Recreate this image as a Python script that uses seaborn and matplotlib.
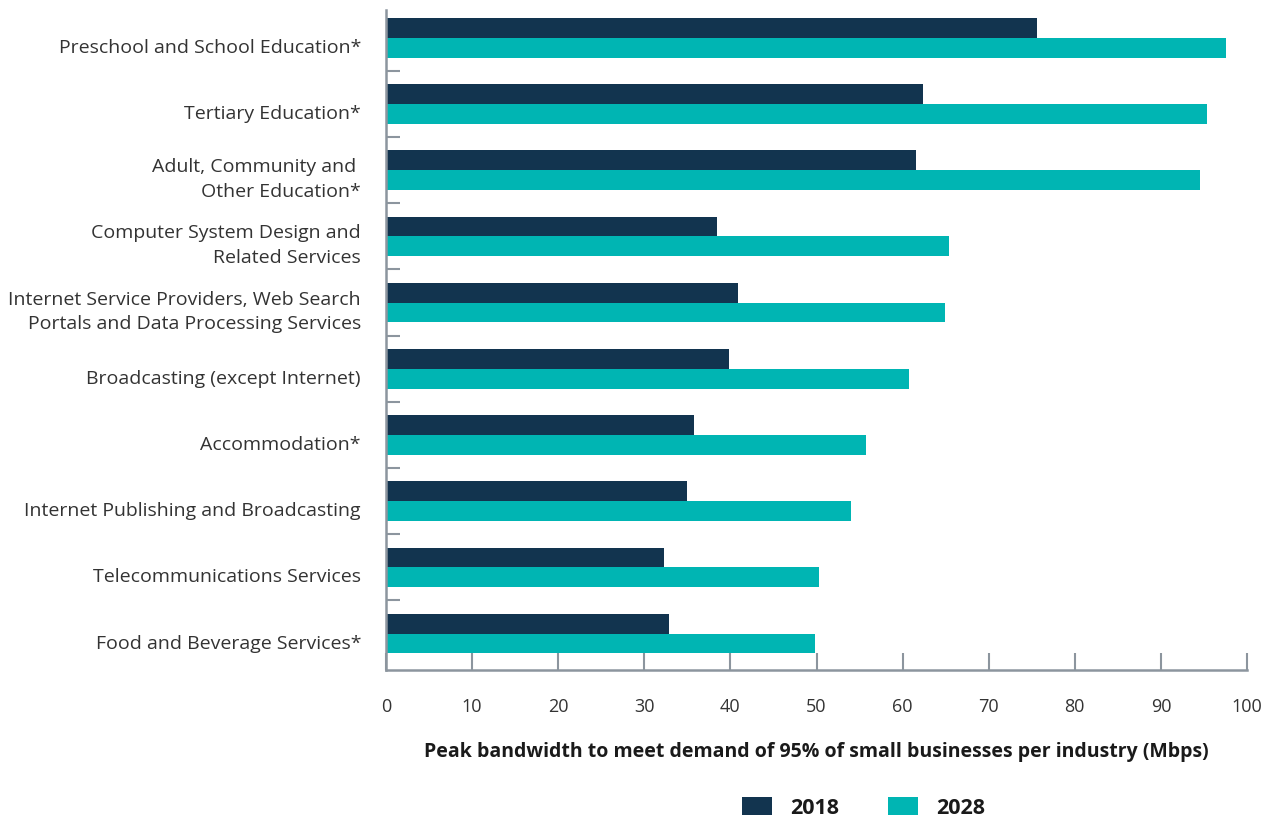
import matplotlib
matplotlib.use("Agg")
import matplotlib.pyplot as plt
import matplotlib.transforms as mtransforms
import seaborn as sns
import pandas as pd
from matplotlib.ticker import FixedLocator
from matplotlib.patches import Patch

industries = [
    "Preschool and School Education*",
    "Tertiary Education*",
    "Adult, Community and \nOther Education*",
    "Computer System Design and\nRelated Services",
    "Internet Service Providers, Web Search\nPortals and Data Processing Services",
    "Broadcasting (except Internet)",
    "Accommodation*",
    "Internet Publishing and Broadcasting",
    "Telecommunications Services",
    "Food and Beverage Services*",
]
bw_2018 = [75.6, 62.4, 61.6, 38.4, 40.9, 39.8, 35.8, 35.0, 32.3, 32.9]
bw_2028 = [97.6, 95.4, 94.5, 65.4, 64.9, 60.7, 55.7, 54.0, 50.3, 49.8]
years = ["2018", "2028"]
colors = ["#12344F", "#00B5B3"]

df = pd.DataFrame({
    "Industry": industries * 2,
    "Year": [years[0]] * len(industries) + [years[1]] * len(industries),
    "Mbps": bw_2018 + bw_2028,
})

sns.set_theme(style="white")
plt.rcParams["font.family"] = ["Open Sans", "DejaVu Sans"]

fig = plt.figure(figsize=(12.74, 8.18), dpi=100)
ax = fig.add_axes([386 / 1274, 1 - 670 / 818, (1247 - 386) / 1274, 660 / 818])

sns.barplot(data=df, y="Industry", x="Mbps", hue="Year", orient="h",
            palette=colors, width=0.6, saturation=1, linewidth=0,
            ax=ax, legend=False)

ax.set_xlim(0, 100)
ax.set_ylim(9.55, -0.42)
ax.set_xticks(range(0, 101, 10))
ax.set_ylabel("")
ax.set_xlabel("Peak bandwidth to meet demand of 95% of small businesses per industry (Mbps)",
              fontsize=14, fontweight="bold", color="#1a1a1a", labelpad=19)

spine_color = "#8C959E"
for s in ["top", "right"]:
    ax.spines[s].set_visible(False)
for s in ["left", "bottom"]:
    ax.spines[s].set_color(spine_color)
    ax.spines[s].set_linewidth(1.8)

ax.tick_params(axis="x", direction="in", bottom=True, length=12, width=1.5, color=spine_color,
               labelsize=13, labelcolor="#333333", pad=20)
ax.tick_params(axis="y", which="major", length=0, labelsize=14, labelcolor="#333333", pad=18)
ax.yaxis.set_minor_locator(FixedLocator([k + 0.5 for k in range(len(industries) - 1)]))
ax.tick_params(axis="y", which="minor", left=True, direction="in", length=10, width=1.5,
               color=spine_color)

# category labels sit slightly below the centre of each bar pair
for lbl in ax.get_yticklabels():
    two_line = "\n" in lbl.get_text()
    dy = -4 if two_line else -8
    shift = mtransforms.ScaledTranslation(0, dy / 100, fig.dpi_scale_trans)
    lbl.set_multialignment("right")
    lbl.set_linespacing(1.45)
    lbl.set_transform(lbl.get_transform() + shift)

handles = [Patch(facecolor=c, edgecolor="none") for c in colors]
leg = fig.legend(handles, years, loc="center left", bbox_to_anchor=(742 / 1274, 1 - 808 / 818),
                 ncol=2, frameon=False, handlelength=1.4, handleheight=0.9,
                 columnspacing=2.25, handletextpad=0.85, borderpad=0, borderaxespad=0,
                 prop={"size": 15.5, "weight": "bold"})
for t in leg.get_texts():
    t.set_color("#1a1a1a")

fig.savefig("out.png", dpi=100)
